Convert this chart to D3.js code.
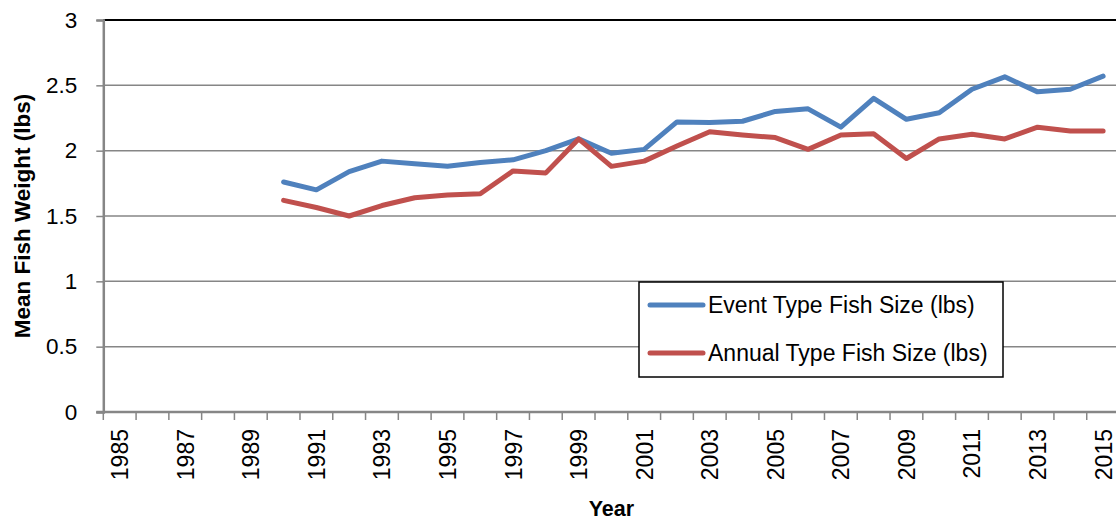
<!DOCTYPE html>
<html>
<head>
<meta charset="utf-8">
<script src="https://cdn.jsdelivr.net/npm/d3@7"></script>
<style>
  body { margin: 0; background: #fff; }
  svg { display: block; font-family: "Liberation Sans", Arial, sans-serif; }
</style>
</head>
<body>
<svg id="chart" width="1116" height="520"></svg>
<script>
// categories: one per year, labels shown every other year
var years = d3.range(1985, 2016);
var yTicks = [0, 0.5, 1, 1.5, 2, 2.5, 3];

// series values (null = no data)
var eventSize = [null, null, null, null, null,
  1.76, 1.70, 1.84, 1.92, 1.90, 1.88, 1.91, 1.93, 2.00, 2.09,
  1.98, 2.01, 2.22, 2.215, 2.225, 2.30, 2.32, 2.18, 2.40, 2.24,
  2.29, 2.47, 2.565, 2.45, 2.47, 2.57];
var annualSize = [null, null, null, null, null,
  1.62, 1.565, 1.50, 1.58, 1.64, 1.66, 1.67, 1.845, 1.83, 2.09,
  1.88, 1.92, 2.035, 2.145, 2.12, 2.10, 2.01, 2.12, 2.13, 1.94,
  2.09, 2.125, 2.09, 2.18, 2.15, 2.15];

var series = [
  { name: 'Event Type Fish Size (lbs)', values: eventSize, color: '#4F81BD' },
  { name: 'Annual Type Fish Size (lbs)', values: annualSize, color: '#C0504D' }
];

var svg = d3.select('#chart');
var plotLeft = 103.3, plotRight = 1119.5, plotTop = 20, plotBottom = 412;

var x = d3.scaleBand()
  .domain(years)
  .range([plotLeft, plotRight]);

var y = d3.scaleLinear()
  .domain([0, 3])
  .range([plotBottom, plotTop]);

// gridlines (top one is the black plot border)
svg.append('g')
  .selectAll('line')
  .data(yTicks.filter(function(d) { return d > 0; }))
  .enter().append('line')
  .attr('x1', plotLeft)
  .attr('x2', plotRight)
  .attr('y1', function(d) { return y(d); })
  .attr('y2', function(d) { return y(d); })
  .attr('stroke', function(d) { return d === 3 ? '#000' : '#868686'; })
  .attr('stroke-width', function(d) { return d === 3 ? 2 : 1.5; });

// y axis
var yAxis = svg.append('g')
  .attr('transform', 'translate(' + plotLeft + ',0)')
  .call(d3.axisLeft(y).tickValues(yTicks).tickSize(7).tickPadding(19)
    .tickFormat(d3.format('')));
yAxis.select('.domain').attr('stroke', '#868686').attr('stroke-width', 2.5);
yAxis.selectAll('.tick line').attr('stroke', '#868686').attr('stroke-width', 1.5);
yAxis.selectAll('.tick text')
  .attr('font-size', 22.5)
  .attr('font-family', '"Liberation Sans", Arial, sans-serif')
  .attr('fill', '#000');

// x axis: ticks between categories, labels every other year
var xAxisG = svg.append('g').attr('transform', 'translate(0,' + plotBottom + ')');
xAxisG.append('line')
  .attr('x1', plotLeft - 7).attr('x2', plotRight)
  .attr('stroke', '#868686').attr('stroke-width', 2.5);
xAxisG.selectAll('.xtick')
  .data(years.concat([2016]))
  .enter().append('line')
  .attr('class', 'xtick')
  .attr('x1', function(d) { return d === 2016 ? plotRight : x(d); })
  .attr('x2', function(d) { return d === 2016 ? plotRight : x(d); })
  .attr('y1', 0).attr('y2', 8)
  .attr('stroke', '#868686').attr('stroke-width', 1.5);
xAxisG.selectAll('.xlabel')
  .data(years.filter(function(d) { return (d - 1985) % 2 === 0; }))
  .enter().append('text')
  .attr('class', 'xlabel')
  .attr('transform', function(d) {
    return 'translate(' + (x(d) + x.bandwidth() / 2 + 8.5) + ',17) rotate(-90)';
  })
  .attr('text-anchor', 'end')
  .attr('font-size', 23)
  .text(function(d) { return d; });

// lines
var line = d3.line()
  .defined(function(d) { return d != null; })
  .x(function(d, i) { return x(years[i]) + x.bandwidth() / 2; })
  .y(function(d) { return y(d); });

svg.append('g')
  .selectAll('path')
  .data(series)
  .enter().append('path')
  .attr('d', function(s) { return line(s.values); })
  .attr('fill', 'none')
  .attr('stroke', function(s) { return s.color; })
  .attr('stroke-width', 5)
  .attr('stroke-linejoin', 'round')
  .attr('stroke-linecap', 'round');

// axis titles
svg.append('text')
  .attr('transform', 'translate(30,' + ((plotTop + plotBottom) / 2) + ') rotate(-90)')
  .attr('text-anchor', 'middle')
  .attr('font-weight', 'bold')
  .attr('font-size', 22.5)
  .text('Mean Fish Weight (lbs)');

svg.append('text')
  .attr('x', (plotLeft + plotRight) / 2)
  .attr('y', 516)
  .attr('text-anchor', 'middle')
  .attr('font-weight', 'bold')
  .attr('font-size', 21.5)
  .text('Year');

// legend
var legend = svg.append('g').attr('transform', 'translate(639,282)');
legend.append('rect')
  .attr('width', 364).attr('height', 95)
  .attr('fill', '#fff').attr('stroke', '#000').attr('stroke-width', 1.5);
var item = legend.selectAll('.item')
  .data(series)
  .enter().append('g')
  .attr('class', 'item')
  .attr('transform', function(d, i) { return 'translate(0,' + (23 + i * 48) + ')'; });
item.append('line')
  .attr('x1', 11).attr('x2', 64)
  .attr('stroke', function(d) { return d.color; })
  .attr('stroke-width', 5)
  .attr('stroke-linecap', 'round');
item.append('text')
  .attr('x', 69)
  .attr('y', 8)
  .attr('font-size', 23)
  .text(function(d) { return d.name; });
</script>
</body>
</html>
